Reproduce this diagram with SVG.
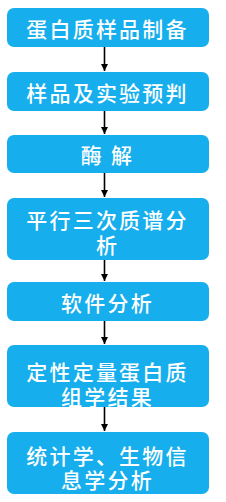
<svg xmlns="http://www.w3.org/2000/svg" width="226" height="502" viewBox="0 0 226 502">
<defs>
<style>
.box{fill:#16AEEC;}
.t{fill:#ffffff;font-family:"Noto Sans CJK SC","Noto Sans CJK JP",sans-serif;font-size:21px;font-weight:500;text-anchor:middle;dominant-baseline:central;letter-spacing:2.2px;}
.c{stroke:#000;stroke-width:1.6;fill:none;marker-end:url(#ah);}
</style>
<marker id="ah" viewBox="0 0 10 10" refX="10" refY="5" markerWidth="4.5" markerHeight="4.5" orient="auto" markerUnits="strokeWidth">
<path d="M0,0 L10,5 L0,10 z" fill="#000"/>
</marker>
</defs>
<rect width="226" height="502" fill="#ffffff"/>
<g id="connectors">
<line class="c" x1="104.5" y1="47" x2="104.5" y2="71"/>
<line class="c" x1="104.5" y1="111" x2="104.5" y2="134"/>
<line class="c" x1="104.5" y1="173" x2="104.5" y2="197"/>
<line class="c" x1="104.5" y1="260" x2="104.5" y2="281"/>
<line class="c" x1="104.5" y1="321" x2="104.5" y2="344"/>
<line class="c" x1="104.5" y1="407" x2="104.5" y2="431"/>
</g>
<g id="n1"><rect class="box" x="7" y="8" width="202" height="39" rx="7"/><text class="t" x="107.5" y="27.5">蛋白质样品制备</text></g>
<g id="n2"><rect class="box" x="7" y="72" width="202" height="39" rx="7"/><text class="t" x="107.5" y="91.5">样品及实验预判</text></g>
<g id="n3"><rect class="box" x="7" y="135" width="202" height="38" rx="7"/><text class="t" x="107.5" y="154">酶 解</text></g>
<g id="n4"><rect class="box" x="7" y="198" width="202" height="62" rx="7"/><text class="t" x="107.5" y="218.5">平行三次质谱分<tspan x="107.5" y="243.5">析</tspan></text></g>
<g id="n5"><rect class="box" x="7" y="282" width="202" height="39" rx="7"/><text class="t" x="107.5" y="301.5">软件分析</text></g>
<g id="n6"><rect class="box" x="7" y="345" width="202" height="62" rx="7"/><text class="t" x="107.5" y="371">定性定量蛋白质<tspan x="107.5" y="396">组学结果</tspan></text></g>
<g id="n7"><rect class="box" x="7" y="432" width="202" height="62" rx="7"/><text class="t" x="107.5" y="455">统计学、生物信<tspan x="107.5" y="479">息学分析</tspan></text></g>
</svg>
